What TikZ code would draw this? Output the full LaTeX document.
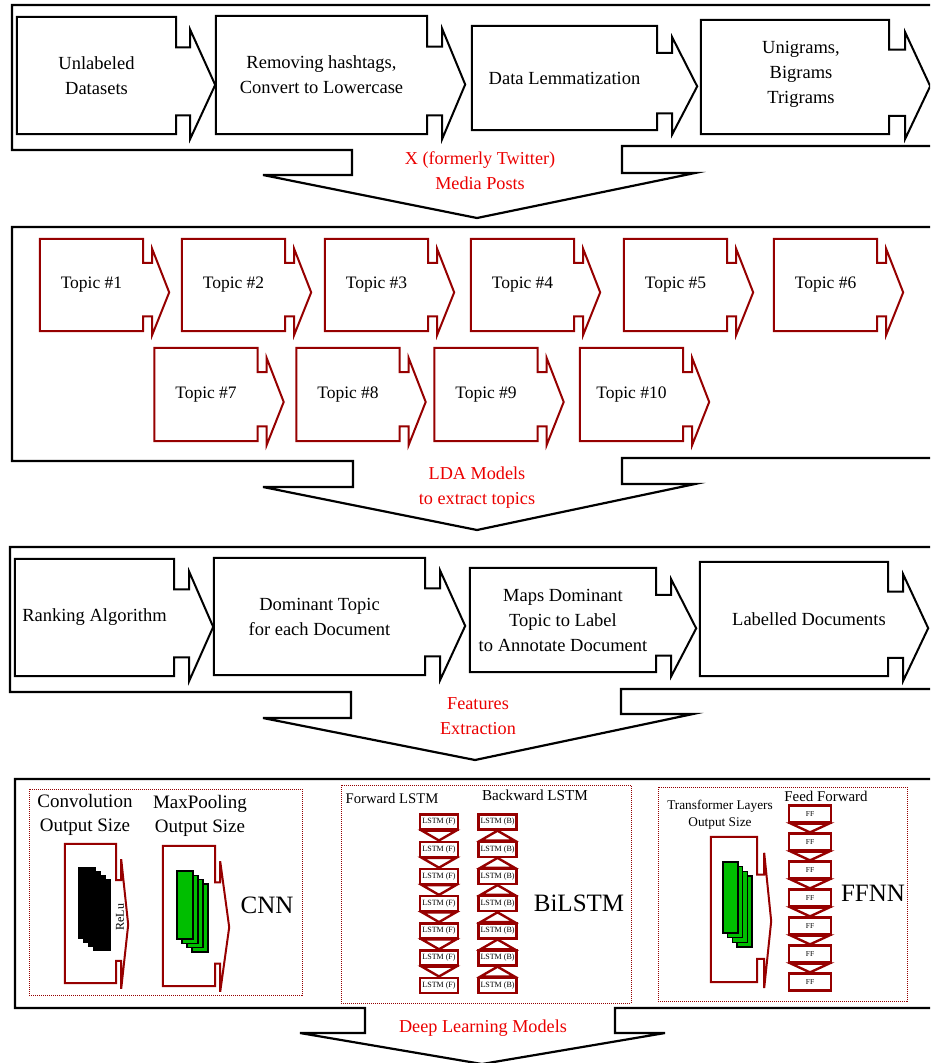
\documentclass[tikz,border=0pt]{standalone}
\usepackage{fontspec}
\setmainfont{Liberation Serif}
\usetikzlibrary{calc}

\definecolor{modelred}{RGB}{150,0,0}
\definecolor{notered}{RGB}{235,0,0}
\definecolor{mapgreen}{RGB}{0,190,0}

\tikzset{
  panel/.style={draw=black, line width=2.2pt, line join=miter},
  stepbox/.style={rectangle, inner sep=0pt, align=center, font=\fontsize{18.5}{25}\selectfont},
  topicbox/.style={rectangle, inner sep=0pt, minimum width=103pt, minimum height=92pt, font=\fontsize{17.5}{21}\selectfont},
  note/.style={align=center, text=notered, font=\fontsize{18.2}{25}\selectfont},
  modelbox/.style={draw=modelred, line width=1pt, dash pattern=on 1pt off 1pt},
  lstmcell/.style={draw=modelred, line width=2.4pt, fill=white, minimum width=38pt, minimum height=15pt, inner sep=0pt, font=\fontsize{8}{9}\selectfont},
  ffcell/.style={draw=modelred, line width=2.2pt, fill=white, minimum width=42pt, minimum height=17pt, inner sep=0pt, font=\fontsize{7.5}{9}\selectfont},
  celllink/.style={draw=modelred, line width=2.4pt, fill=white, line join=miter},
  convmap/.style={draw=black, fill=black, line width=1pt},
  greenmap/.style={draw=black, fill=mapgreen, line width=1.3pt},
  bigname/.style={font=\fontsize{25}{28}\selectfont}
}

% outline of a box with a notched arrow on its right side
\newcommand{\stepoutline}[4][black]{%
  \draw[line width=2pt, line join=miter, draw=#1] (#2.north west) -- (#2.north east)
    -- ($(#2.north east)!.26!(#2.south east)$) -- ++(#3,0)
    -- ($(#2.north east)!.11!(#2.south east)+(#3,0)$)
    -- ($(#2.north east)!.58!(#2.south east)+(#3+#4,0)$)
    -- ($(#2.north east)!1.04!(#2.south east)+(#3,0)$)
    -- ($(#2.north east)!.84!(#2.south east)+(#3,0)$)
    -- ($(#2.north east)!.84!(#2.south east)$)
    -- (#2.south east) -- (#2.south west) -- cycle;}

\begin{document}
\begin{tikzpicture}[x=1pt, y=-1pt]
  \useasboundingbox (0,0) rectangle (930,1063);
  \clip (0,0) rectangle (930,1063);

  % Panels
  \draw[panel] (12,5) -- (945,5) -- (945,146) -- (622,146) -- (622,173) -- (695,173) -- (477,218) -- (263,175) -- (352,175) -- (352,150) -- (12,150) -- cycle;
  \draw[panel] (12,227) -- (945,227) -- (945,458) -- (622,458) -- (622,484) -- (695,484) -- (477,530) -- (263,487) -- (353,487) -- (353,461) -- (12,461) -- cycle;
  \draw[panel] (10,547) -- (945,547) -- (945,689) -- (621,689) -- (621,714) -- (693,714) -- (475,760) -- (263,718) -- (351,718) -- (351,692) -- (10,692) -- cycle;
  \draw[panel] (15,779) -- (945,779) -- (945,1008) -- (615,1008) -- (615,1033) -- (665,1033) -- (482,1064) -- (300,1033) -- (365,1033) -- (365,1008) -- (15,1008) -- cycle;

  % Notes between the panels
  \node[note] (xposts) at (480,170.5) {X (formerly Twitter)\\Media Posts};
  \node[note] (ldanote) at (477,487.5) {LDA Models\\to extract topics};
  \node[note] (featnote) at (478,716) {Features\\Extraction};
  \node[note] (dlnote) at (483,1028) {Deep Learning Models};

  % Preprocessing
  \node[stepbox, minimum width=159pt, minimum height=117pt] (unlab) at (96.5,75.5) {Unlabeled\\Datasets};
  \node[stepbox, minimum width=211pt, minimum height=118pt] (clean) at (321.5,75) {Removing hashtags,\\Convert to Lowercase};
  \node[stepbox, minimum width=185pt, minimum height=104pt] (lemma) at (564.5,78) {Data Lemmatization};
  \node[stepbox, minimum width=188pt, minimum height=114pt] (ngram) at (795,77) {};
  \node[stepbox] (ngramtxt) at (801,74) {Unigrams,\\Bigrams\\Trigrams};
  \stepoutline{unlab}{14}{25}
  \stepoutline{clean}{15}{23}
  \stepoutline{lemma}{15}{25}
  \stepoutline{ngram}{16}{25}

  % Topics
  \node[topicbox] (t1) at (91.5,285) {Topic \#1};
  \node[topicbox] (t2) at (233.5,285) {Topic \#2};
  \node[topicbox] (t3) at (376.5,285) {Topic \#3};
  \node[topicbox] (t4) at (522.5,285) {Topic \#4};
  \node[topicbox] (t5) at (675.5,285) {Topic \#5};
  \node[topicbox] (t6) at (825.5,285) {Topic \#6};
  \node[topicbox, minimum height=93pt] (t7) at (206,394.5) {Topic \#7};
  \node[topicbox, minimum height=93pt] (t8) at (348,394.5) {Topic \#8};
  \node[topicbox, minimum height=93pt] (t9) at (486,394.5) {Topic \#9};
  \node[topicbox, minimum height=93pt] (t10) at (631.5,394.5) {Topic \#10};
  \foreach \n in {1,...,10} {
    \stepoutline[modelred]{t\n}{9}{17}
  }

  % Labelling
  \node[stepbox, minimum width=159pt, minimum height=117pt] (rank) at (94.5,617.5) {Ranking Algorithm};
  \node[stepbox, minimum width=211pt, minimum height=117pt] (domtopic) at (319.5,616.5) {Dominant Topic\\for each Document};
  \node[stepbox, minimum width=186pt, minimum height=104pt] (mapdoc) at (563,620) {Maps Dominant\\Topic to Label\\to Annotate Document};
  \node[stepbox, minimum width=188pt, minimum height=114pt] (labdoc) at (794,619) {};
  \node[stepbox] (labdoctxt) at (809,619) {Labelled Documents};
  \stepoutline{rank}{15}{24}
  \stepoutline{domtopic}{15}{25}
  \stepoutline{mapdoc}{15}{25}
  \stepoutline{labdoc}{15}{25}

  % Models
  \draw[modelbox] (29,789) rectangle (302,995);
  \draw[modelbox] (341,785) rectangle (631,1003);
  \draw[modelbox] (658,787) rectangle (907,1001);

  % CNN
  \node[align=center, font=\fontsize{19}{24}\selectfont] (convlbl) at (85,815) {Convolution\\Output Size};
  \node[align=center, font=\fontsize{19}{24}\selectfont] (poollbl) at (200,816) {MaxPooling\\Output Size};
  \node[stepbox, minimum width=51pt, minimum height=139pt] (conv) at (90.5,913.5) {};
  \node[stepbox, minimum width=52pt, minimum height=140pt] (pool) at (189,916) {};
  \stepoutline[modelred]{conv}{5}{7}
  \stepoutline[modelred]{pool}{5}{9}
  \foreach \k in {3,2,1,0}
    \draw[convmap] (78+5*\k,867+4*\k) rectangle ++(17,71);
  \foreach \k in {3,2,1,0}
    \draw[greenmap] (177+5*\k,871+4.3*\k) rectangle ++(16,68);
  \node[rotate=90, font=\fontsize{12}{14}\selectfont] (relulbl) at (120,917) {ReLu};
  \node[bigname] (cnnlbl) at (267,905) {CNN};

  % BiLSTM
  \node[font=\fontsize{14.7}{17}\selectfont] (fwdlbl) at (392,798) {Forward LSTM};
  \node[font=\fontsize{15.2}{17}\selectfont] (bwdlbl) at (535,795) {Backward LSTM};
  \foreach \i in {1,...,7} {
    \node[lstmcell] (f\i) at (439,822+27.2*\i-27.2) {LSTM (F)};
    \node[lstmcell] (b\i) at (497.5,822+27.2*\i-27.2) {LSTM (B)};
  }
  \foreach \i [count=\j from 2] in {1,...,6} {
    \draw[celllink] ($(f\i.south)+(-17,0)$) -- ($(f\i.south)+(17,0)$) -- (f\j.north) -- cycle;
    \draw[celllink] ($(b\j.north)+(-17,0)$) -- ($(b\j.north)+(17,0)$) -- (b\i.south) -- cycle;
  }
  \node[bigname] (bilbl) at (579,903) {BiLSTM};

  % FFNN
  \node[align=center, font=\fontsize{13.3}{17}\selectfont] (translbl) at (720,814.5) {Transformer Layers\\Output Size};
  \node[font=\fontsize{14.9}{17}\selectfont] (fflbl) at (826,796) {Feed Forward};
  \node[stepbox, minimum width=46pt, minimum height=145pt] (trans) at (734,909.5) {};
  \stepoutline[modelred]{trans}{7}{7}
  \foreach \k in {3,2,1,0}
    \draw[greenmap] (723+4.7*\k,862+4.7*\k) rectangle ++(15,71);
  \foreach \i in {1,...,7}
    \node[ffcell] (ff\i) at (810,814+28*\i-28) {FF};
  \foreach \i [count=\j from 2] in {1,...,6}
    \draw[celllink] ($(ff\i.south)+(-19,0)$) -- ($(ff\i.south)+(19,0)$) -- (ff\j.north) -- cycle;
  \node[bigname] (ffnnlbl) at (873,893) {FFNN};
\end{tikzpicture}
\end{document}
